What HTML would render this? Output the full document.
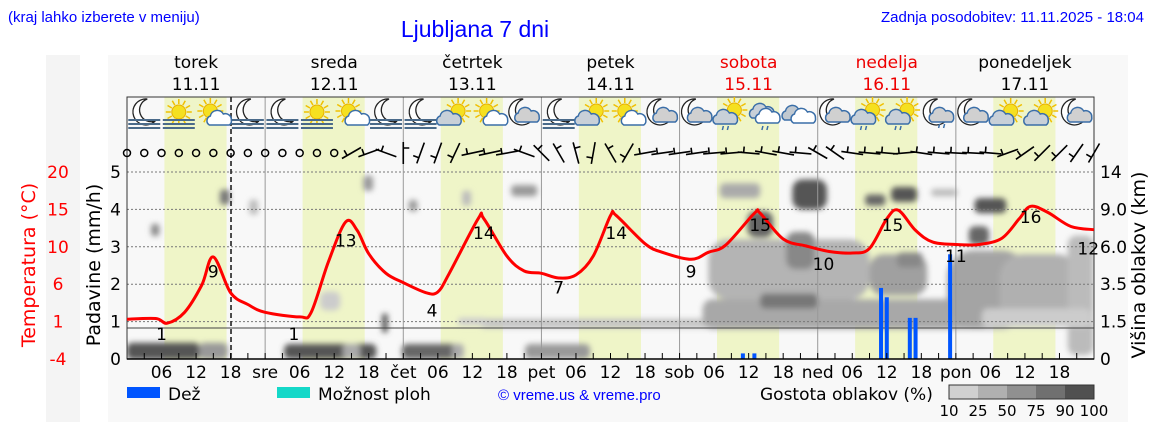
<!DOCTYPE html>
<html><head><meta charset="utf-8">
<style>
html,body{margin:0;padding:0;background:#fff;}
svg{display:block;}
text{font-family:"DejaVu Sans","Liberation Sans",sans-serif;}
.hd{font-family:"Liberation Sans",sans-serif;fill:#0000ff;}
</style></head>
<body>
<svg id="chart" width="1152" height="443" viewBox="0 0 1152 443" xmlns="http://www.w3.org/2000/svg">
<defs>
<clipPath id="plotclip"><rect x="127" y="172" width="967" height="187"/></clipPath>
<filter id="blur" x="-50%" y="-50%" width="200%" height="200%"><feGaussianBlur stdDeviation="3"/></filter>
</defs>
<rect x="46" y="55" width="34" height="367" fill="#f4f4f4"/>
<rect x="108" y="55" width="1020" height="367" fill="#f8f8f8"/>
<text class="hd" x="8" y="22" font-size="15">(kraj lahko izberete v meniju)</text>
<text class="hd" x="475" y="37" font-size="23" text-anchor="middle">Ljubljana 7 dni</text>
<text class="hd" x="1144" y="22" font-size="15" text-anchor="end">Zadnja posodobitev: 11.11.2025 - 18:04</text>
<g id="bands"></g>
<g id="clouds" clip-path="url(#plotclip)" filter="url(#blur)"></g>
<g id="grid"></g>
<g id="icons"></g>
<g id="wind"></g>
<g id="bars"></g>
<g id="temp"></g>
<g id="axes"></g>
<text x="35" y="265" font-size="19" fill="#ff0000" text-anchor="middle" transform="rotate(-90 35 265)">Temperatura (°C)</text>
<text x="100" y="265" font-size="19" fill="#000" text-anchor="middle" transform="rotate(-90 100 265)">Padavine (mm/h)</text>
<text x="1145" y="265" font-size="19" fill="#000" text-anchor="middle" transform="rotate(-90 1145 265)">Višina oblakov (km)</text>
<g>
<rect x="127" y="387" width="33" height="11" fill="#0055ff"/>
<text x="168" y="400" font-size="17" font-family="Liberation Sans">Dež</text>
<rect x="277" y="387" width="33" height="11" fill="#14d8c8"/>
<text x="318" y="400" font-size="17" font-family="Liberation Sans">Možnost ploh</text>
<text class="hd" x="498" y="400" font-size="15">© vreme.us &amp; vreme.pro</text>
<text x="760" y="400" font-size="17" font-family="Liberation Sans">Gostota oblakov (%)</text>
<g id="cbar"></g>
</g>
</svg>
<script>
var NS='http://www.w3.org/2000/svg';
// ---- data ----
var dayNames=['torek','sreda','četrtek','petek','sobota','nedelja','ponedeljek'];
var dayDates=['11.11','12.11','13.11','14.11','15.11','16.11','17.11'];
var dayAbbr=['','sre','čet','pet','sob','ned','pon'];
var tempHours=[0,5,7,10,13,15,18,21,24,30,32,35,38,40,42,45,48,52,54,56,61,62,66,69,72,75,78,81,84,85,90,93,98,101,104,109,110,114,118,122,126,129,132,134,137,140,144,148,152,155,157,160,164,168];
var tempValues=[1.1,1.2,0.6,2.0,5.5,9.1,4.5,3.0,2.0,1.4,2.0,8.5,13.6,12.5,9.5,7.0,5.8,4.5,4.6,7.0,14.0,14.0,9.2,7.3,7.0,6.4,6.8,9.2,14.4,14.4,10.8,9.7,8.8,9.7,10.6,14.7,14.7,11.4,10.5,9.8,9.6,10.2,14.0,15.1,12.5,11.0,10.7,10.7,11.5,14.0,15.6,14.8,13.0,12.6];
var tempLabelHours=[6,15,29,38,53,62,75,85,98,110,121,133,144,157,167];
var tempLabelValues=[1,9,1,13,4,14,7,14,9,15,10,15,11,16,12];
var rainHours=[107,109,131,132,136,137,143];
var rainValues=[0.15,0.15,1.9,1.65,1.1,1.1,2.8];
var precipTicks=[0,1,2,3,4,5];
var tempTickLabels=['-4','1','6','10','15','20'];
var cloudTickLabels=['0','1.5','3.5','6.0','9.0','14'];
var cbarLabels=['10','25','50','75','90','100'];
var cbarShades=['#d0d0d0','#b0b0b0','#909090','#707070','#505050'];
var iconTypes=['moonfog','sunfog','suncloud','moonfog','moonfog','sunfog','suncloud','moonfog','moonfog','cloudsun','suncloud','mooncloud','moonfog','cloudsun','suncloud','mooncloud','mooncloud','cloudsunrain','cloudrain','cloud','mooncloud','cloudsunrain','cloudsunrain','mooncloudrain','mooncloud','cloudsun','cloudsun','mooncloud'];
var windAngles=[-30,-20,20,90,-70,-70,-65,-12,-12,-10,20,45,60,75,-80,60,-60,-10,-8,-8,-8,-5,-5,5,10,10,5,30,35,8,5,5,-5,8,5,3,3,5,-20,-35,-45,-45,-55,-60,-50,-55];
// cloud cells: hour centre, level (mm-scale), width(h), height(mm), shade
var cloudHours=[6.3,15,35.3,39,52.5,57.5,74.8,82.5,126,115,115,117,110,118.6,106.5,135,130,142,134,136,150,148,149.5,158.6,165.7,158,4.9,17,22,41.9,44.8,35.3,49.7,69,59,60];
var cloudLevels=[0.21,0.21,0.2,0.2,0.2,0.2,0.2,0.95,1.2,2.4,1.55,2.9,3.6,4.4,4.5,4.4,4.25,4.45,2.25,2.65,4.1,3.3,1.85,1.85,1.7,1.1,3.45,4.33,4.06,4.7,0.96,1.55,4.1,4.5,4.3,1.0];
var cloudWidths=[12.7,5,16,3,9.5,2,11.3,42,52,28,10,5,4.5,6,7,4.5,3.5,4.5,10,4.5,5.5,3.5,14,14,4.5,19,1.4,1.7,1.5,1.7,1,3.5,1.5,4.5,1.5,5];
var cloudHeights=[0.45,0.45,0.4,0.4,0.4,0.4,0.4,0.25,0.8,1.6,0.4,1.0,0.7,0.8,0.4,0.4,0.3,0.2,1.1,0.4,0.4,0.5,2.1,1.9,3.2,0.5,0.32,0.4,0.4,0.4,0.5,0.5,0.3,0.3,0.4,0.2];
var cloudShades=['#555','#999','#555','#aaa','#666','#aaa','#999','#c4c4c4','#a8a8a8','#b4b4b4','#777','#888','#666','#555','#aaa','#555','#666','#bbb','#a0a0a0','#888','#555','#666','#a4a4a4','#b0b0b0','#bbb','#ccc','#888','#777','#bbb','#999','#555','#ccc','#999','#999','#bbb','#ccc'];
// ---- axes ----
var X0=127,X1=1094,Y0=359,Y1=172;
function xH(h){return X0+h*(X1-X0)/168;}
function yP(mm){return Y0-mm*(Y0-Y1)/5;}
function yT(t){return Y0-(t+4)*(Y0-Y1)/24;}
function el(tag,attrs,parent){var e=document.createElementNS(NS,tag);for(var k in attrs)e.setAttribute(k,attrs[k]);parent.appendChild(e);return e;}
var g=function(id){return document.getElementById(id);};
for(var d=0;d<7;d++){
  var b=el('rect',{x:xH(d*24+6.5),y:97,width:xH(17.3)-xH(6.5),height:Y0-97,fill:'#eff5c8'},g('bands'));
  
  
  var dn=el('text',{x:xH(d*24+12),y:68,'font-size':17,'text-anchor':'middle',fill:(d==4||d==5)?'#ee0000':'#000'},g('axes'));
  dn.textContent=dayNames[d];
  
  
  var dd=el('text',{x:xH(d*24+12),y:90,'font-size':17,'text-anchor':'middle',fill:(d==4||d==5)?'#ee0000':'#000'},g('axes'));
  dd.textContent=dayDates[d];
  
  
}
for(var i=0;i<cloudHours.length;i++){
  var w=xH(cloudWidths[i])-xH(0),h=cloudHeights[i]*(Y0-Y1)/5;
  var c=el('rect',{x:xH(cloudHours[i])-w/2,y:yP(cloudLevels[i])-h/2,width:w,height:h,rx:Math.min(w,h)/3,fill:cloudShades[i]},g('clouds'));
  
  
}
for(var i=1;i<=5;i++){
  var l=el('line',{x1:X0,x2:X1,y1:yP(i),y2:yP(i),stroke:'#777','stroke-width':1,'stroke-dasharray':'2,2'},g('grid'));
  
  
}
for(var d=1;d<7;d++){
  var v=el('line',{x1:xH(d*24),x2:xH(d*24),y1:97,y2:Y0,stroke:'#999','stroke-width':1},g('grid'));
  
  
}
var sep=el('line',{x1:X0,x2:X1,y1:328,y2:328,stroke:'#444','stroke-width':1},g('grid'));


var fr=el('rect',{x:X0,y:97,width:X1-X0,height:Y0-97,fill:'none',stroke:'#333','stroke-width':1},g('grid'));


var now=el('line',{x1:xH(18.07),x2:xH(18.07),y1:97,y2:Y0,stroke:'#222','stroke-width':1.6,'stroke-dasharray':'5,3'},g('grid'));


var ax=el('line',{x1:X0,x2:X1,y1:Y0,y2:Y0,stroke:'#000','stroke-width':1.5},g('axes'));


for(var h=3;h<168;h+=3){
  var t=el('line',{x1:xH(h),x2:xH(h),y1:Y0-6,y2:Y0,stroke:'#000','stroke-width':1},g('axes'));
  
  
  if(h%6==0){
    var lab=(h%24==0)?dayAbbr[h/24]:(h%24<10?'0':'')+(h%24);
    var tx=el('text',{x:xH(h),y:378,'font-size':17,'text-anchor':'middle'},g('axes'));
    tx.textContent=lab;
    
    
  }
}
for(var i=0;i<precipTicks.length;i++){
  var yy=yP(precipTicks[i])+6;
  var a=el('text',{x:121,y:yy,'font-size':17,'text-anchor':'end'},g('axes'));
  a.textContent=precipTicks[i];
  
  
  var b2=el('text',{x:58,y:yy,'font-size':17,'text-anchor':'middle',fill:'#ff0000'},g('axes'));
  b2.textContent=tempTickLabels[i];
  
  
  var c2=el('text',{x:1100,y:yy,'font-size':17},g('axes'));
  c2.textContent=cloudTickLabels[i];
  
  
}
for(var i=0;i<rainHours.length;i++){
  var r=el('rect',{x:xH(rainHours[i])-2,y:yP(rainValues[i]),width:4,height:Y0-yP(rainValues[i]),fill:'#0055ff'},g('bars'));
  
  
}
// smoothed temperature line (Catmull-Rom)
var P=[];
for(var i=0;i<tempHours.length;i++)P.push([xH(tempHours[i]),yT(tempValues[i])]);
var d='M'+P[0][0].toFixed(1)+','+P[0][1].toFixed(1);
for(var i=0;i<P.length-1;i++){
  var p0=P[Math.max(0,i-1)],p1=P[i],p2=P[i+1],p3=P[Math.min(P.length-1,i+2)];
  var c1x=p1[0]+(p2[0]-p0[0])/6,c1y=p1[1]+(p2[1]-p0[1])/6,c2x=p2[0]-(p3[0]-p1[0])/6,c2y=p2[1]-(p3[1]-p1[1])/6;
  d+='C'+c1x.toFixed(1)+','+c1y.toFixed(1)+' '+c2x.toFixed(1)+','+c2y.toFixed(1)+' '+p2[0].toFixed(1)+','+p2[1].toFixed(1);
}
var tl=el('path',{d:d,fill:'none',stroke:'#ff0000','stroke-width':3,'stroke-linejoin':'round'},g('temp'));


for(var i=0;i<tempLabelHours.length;i++){
  var lt=el('text',{x:xH(tempLabelHours[i]),y:yT(tempLabelValues[i])+20,'font-size':17,'text-anchor':'middle'},g('temp'));
  lt.textContent=tempLabelValues[i];
  
  
}
for(var h=0;h<=36;h+=3){
  var ci=el('circle',{cx:xH(h),cy:153,r:3.5,fill:'none',stroke:'#000','stroke-width':1.5},g('wind'));
  
  
}
for(var i=0;i<windAngles.length;i++){
  var hh=39+i*3;if(hh>168)break;
  var a=windAngles[i]*Math.PI/180,cx=xH(hh),cy=153,L=11;
  var x1=cx-L*Math.cos(a),y1=cy-L*Math.sin(a),x2=cx+L*Math.cos(a),y2=cy+L*Math.sin(a);
  var wb=el('path',{d:'M'+x1+','+y1+'L'+x2+','+y2+'M'+(x1+6*Math.cos(a))+','+(y1+6*Math.sin(a))+'l'+(6*Math.sin(a))+','+(-6*Math.cos(a)),stroke:'#000','stroke-width':1.6,fill:'none'},g('wind'));
  
  
}
function moon(p,x,y){el('path',{d:'M'+(x+4)+','+(y-13)+'a13,13 0 1,0 8,22a11,11 0 0,1 -8,-22z',fill:'#fff',stroke:'#222','stroke-width':1.3},p);}
function sun(p,x,y){for(var k=0;k<12;k++){var a=k*Math.PI/6;el('line',{x1:x+8*Math.cos(a),y1:y+8*Math.sin(a),x2:x+13*Math.cos(a),y2:y+13*Math.sin(a),stroke:'#f0c000','stroke-width':1.5},p);}el('circle',{cx:x,cy:y,r:7,fill:'#f5e020',stroke:'#e8b000'},p);}
function cloud(p,x,y,f){el('path',{d:'M'+(x-11)+','+(y+6)+'a5,5 0 0,1 1,-9a7,7 0 0,1 13,-2a6,6 0 0,1 8,6a5,5 0 0,1 -2,5z',fill:f,stroke:'#3a6ea8','stroke-width':1.5},p);}
function fog(p,x,y){for(var k=0;k<3;k++)el('line',{x1:x-16,x2:x+16,y1:y+6+k*4,y2:y+6+k*4,stroke:'#4a6a8a','stroke-width':2},p);}
function rain(p,x,y){el('path',{d:'M'+(x-3)+','+y+'l-1,4M'+(x+2)+','+y+'l-1,4',stroke:'#3a6ea8','stroke-width':1.5},p);}
for(var i=0;i<iconTypes.length;i++){
  var ig=el('g',{},g('icons'));
  
  
  var x=xH(3+i*6),y=114,ty=iconTypes[i];
  if(ty=='moonfog'){moon(ig,x-1,y-2);fog(ig,x,y);}
  else if(ty=='sunfog'){sun(ig,x,y-2);fog(ig,x,y);}
  else if(ty=='suncloud'){sun(ig,x-3,y-3);cloud(ig,x+7,y+5,'#fff');}
  else if(ty=='cloudsun'){sun(ig,x+3,y-3);cloud(ig,x-5,y+5,'#c8d0d8');}
  else if(ty=='mooncloud'){moon(ig,x-5,y-2);cloud(ig,x+4,y+2,'#d0d0d0');}
  else if(ty=='mooncloudrain'){moon(ig,x-5,y-2);cloud(ig,x+4,y+2,'#d0d0d0');rain(ig,x+4,y+10);}
  else if(ty=='cloudsunrain'){sun(ig,x+3,y-4);cloud(ig,x-5,y+4,'#c8d0d8');rain(ig,x-5,y+12);}
  else if(ty=='cloudrain'){cloud(ig,x-3,y-2,'#c8d0d8');cloud(ig,x+3,y+3,'#fff');rain(ig,x,y+12);}
  else if(ty=='cloud'){cloud(ig,x-5,y,'#c0c8d0');cloud(ig,x+4,y+3,'#fff');}
}
for(var i=0;i<cbarShades.length;i++){
  var cb=el('rect',{x:949+i*29,y:385,width:29,height:14,fill:cbarShades[i]},g('cbar'));
  
  
}
el('rect',{x:949,y:385,width:145,height:14,fill:'none',stroke:'#333'},g('cbar'));
for(var i=0;i<cbarLabels.length;i++){
  var cl=el('text',{x:949+i*29,y:416,'font-size':15,'text-anchor':'middle'},g('cbar'));
  cl.textContent=cbarLabels[i];
  
  
}
</script>
</body></html>
